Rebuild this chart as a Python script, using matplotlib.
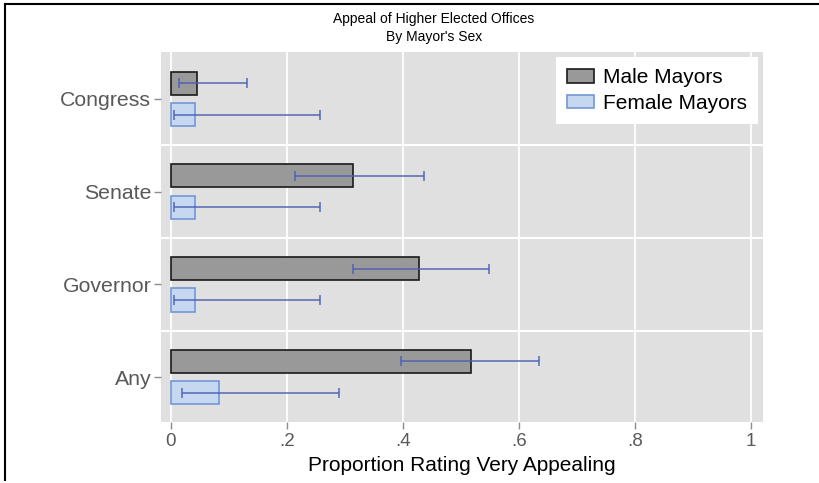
import matplotlib
matplotlib.use("Agg")
import matplotlib.pyplot as plt
import numpy as np

plt.rcParams['font.family'] = ['Liberation Sans', 'DejaVu Sans']

# offices, bottom to top
offices = ["Any", "Governor", "Senate", "Congress"]

# male mayors: proportion and 95% interval
male_prop = [0.517, 0.428, 0.314, 0.045]
male_lo = [0.396, 0.314, 0.214, 0.014]
male_hi = [0.634, 0.549, 0.436, 0.132]

# female mayors
female_prop = [0.083, 0.042, 0.042, 0.042]
female_lo = [0.020, 0.005, 0.005, 0.005]
female_hi = [0.290, 0.258, 0.258, 0.258]

xticks = [0, 0.2, 0.4, 0.6, 0.8, 1.0]
xtick_labels = ["0", ".2", ".4", ".6", ".8", "1"]

fig = plt.figure(figsize=(8.19, 4.83), dpi=100)
ax = fig.add_axes([161 / 819, 1 - 422 / 483, 602 / 819, 370 / 483])
ax.set_facecolor("#e0e0e0")
for s in ax.spines.values():
    s.set_visible(False)

pos = np.arange(len(offices))
off = 0.17
h = 0.25

ax.barh(pos + off, male_prop, height=h, color="#999999", edgecolor="#1a1a1a",
        linewidth=1.2, label="Male Mayors", zorder=3)
ax.barh(pos - off, female_prop, height=h, color="#c5d8f0", edgecolor="#7396d8",
        linewidth=1.2, label="Female Mayors", zorder=3)

m = np.array(male_prop)
f = np.array(female_prop)
ax.errorbar(m, pos + off, xerr=[m - np.array(male_lo), np.array(male_hi) - m],
            fmt="none", ecolor="#4a5fb4", elinewidth=1.2, capsize=3.5,
            capthick=1.2, alpha=0.85, zorder=4)
ax.errorbar(f, pos - off, xerr=[f - np.array(female_lo), np.array(female_hi) - f],
            fmt="none", ecolor="#4a5fb4", elinewidth=1.2, capsize=3.5,
            capthick=1.2, alpha=0.85, zorder=4)

# grid: vertical at ticks, horizontal between groups
for x in xticks:
    ax.axvline(x, color="white", linewidth=1.3, zorder=1)
for y in pos[:-1] + 0.5:
    ax.axhline(y, color="white", linewidth=1.5, zorder=1)

ax.set_xlim(-0.017, 1.021)
ax.set_ylim(-0.485, 3.506)
ax.set_xticks(xticks)
ax.set_xticklabels(xtick_labels)
ax.set_yticks(pos)
ax.set_yticklabels(offices)
ax.tick_params(axis="both", colors="#8c8c8c", labelcolor="#595959", length=5, width=1)
ax.tick_params(axis="x", labelsize=13.5, pad=3)
ax.tick_params(axis="y", labelsize=15.3, pad=2)

ax.set_xlabel("Proportion Rating Very Appealing", fontsize=15, color="black", labelpad=4)

leg = ax.legend(loc="upper right", bbox_to_anchor=(0.9917, 0.9865), borderaxespad=0,
                fontsize=15, frameon=True, fancybox=False, edgecolor="white",
                framealpha=1, handlelength=1.3, handleheight=0.62, borderpad=0.55,
                labelspacing=0.3, handletextpad=0.4)
leg.get_frame().set_linewidth(0)

fig.text(434 / 819, 1 - 19 / 483, "Appeal of Higher Elected Offices", ha="center",
         va="center", fontsize=10)
fig.text(434 / 819, 1 - 37 / 483, "By Mayor's Sex", ha="center", va="center", fontsize=10)

# outer frame: top and left
fig.add_artist(plt.Line2D([4.5 / 819, 1], [1 - 3.5 / 483, 1 - 3.5 / 483], color="black",
                          linewidth=1.5, transform=fig.transFigure))
fig.add_artist(plt.Line2D([4.5 / 819, 4.5 / 819], [1 - 3.5 / 483, 1 - 480 / 483], color="black",
                          linewidth=1.5, transform=fig.transFigure))

fig.savefig("out.png", dpi=100)
